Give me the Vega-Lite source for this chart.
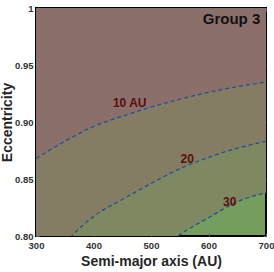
{
  "$schema": "https://vega.github.io/schema/vega-lite/v6.json",
  "width": 230,
  "height": 228,
  "autosize": {"type": "none"},
  "padding": {"left": 36, "top": 8, "right": 8, "bottom": 36},
  "config": {
    "view": {"fill": "#749d5e", "stroke": "black", "strokeWidth": 2},
    "font": "Liberation Sans",
    "axis": {
      "grid": false,
      "domain": false,
      "tickColor": "#2f62a0",
      "tickSize": -3,
      "tickWidth": 1,
      "labelFont": "Liberation Sans",
      "labelFontWeight": "bold",
      "labelFontSize": 9.5,
      "labelColor": "#333333",
      "labelFlush": false,
      "labelOverlap": false,
      "titleFont": "Liberation Sans",
      "titleFontWeight": "bold",
      "titleFontSize": 14,
      "titleColor": "#262626"
    }
  },
  "datasets": {
    "curves": [
      {"a": 300, "q10": 0.868, "q20": 0.745, "q30": 0.60},
      {"a": 350, "q10": 0.883, "q20": 0.792, "q30": 0.66},
      {"a": 400, "q10": 0.896, "q20": 0.817, "q30": 0.71},
      {"a": 450, "q10": 0.905, "q20": 0.832, "q30": 0.755},
      {"a": 500, "q10": 0.913, "q20": 0.846, "q30": 0.780},
      {"a": 550, "q10": 0.920, "q20": 0.859, "q30": 0.801},
      {"a": 600, "q10": 0.926, "q20": 0.869, "q30": 0.816},
      {"a": 650, "q10": 0.931, "q20": 0.877, "q30": 0.830},
      {"a": 700, "q10": 0.935, "q20": 0.883, "q30": 0.838}
    ],
    "labels": [
      {"a": 463, "e": 0.913, "text": "10 AU"},
      {"a": 563, "e": 0.864, "text": "20"},
      {"a": 637, "e": 0.826, "text": "30"}
    ]
  },
  "layer": [
    {
      "data": {"name": "curves"},
      "mark": {"type": "area", "clip": true, "color": "#7e8962", "interpolate": "monotone"},
      "encoding": {
        "x": {"field": "a", "type": "quantitative", "scale": {"domain": [300, 700], "nice": false, "zero": false},
              "axis": {"orient": "bottom", "title": "Semi-major axis (AU)", "values": [300, 400, 500, 600, 700], "labelPadding": 7, "titlePadding": 5}},
        "y": {"field": "q30", "type": "quantitative", "scale": {"domain": [0.8, 1], "nice": false, "zero": false},
              "axis": {"orient": "left", "title": "Eccentricity", "values": [0.8, 0.85, 0.9, 0.95, 1], "labelExpr": "datum.value == 1 ? '1' : format(datum.value, '.2f')", "labelPadding": 6, "titlePadding": 0}},
        "y2": {"datum": 1}
      }
    },
    {
      "data": {"name": "curves"},
      "mark": {"type": "area", "clip": true, "color": "#847d63", "interpolate": "monotone"},
      "encoding": {
        "x": {"field": "a", "type": "quantitative",
              "axis": {"orient": "top", "title": null, "labels": false, "values": [300, 400, 500, 600, 700]}},
        "y": {"field": "q20", "type": "quantitative",
              "axis": {"orient": "right", "title": null, "labels": false, "values": [0.8, 0.85, 0.9, 0.95, 1]}},
        "y2": {"datum": 1}
      }
    },
    {
      "data": {"name": "curves"},
      "mark": {"type": "area", "clip": true, "color": "#8b6f6a", "interpolate": "monotone"},
      "encoding": {
        "x": {"field": "a", "type": "quantitative", "axis": null},
        "y": {"field": "q10", "type": "quantitative", "axis": null},
        "y2": {"datum": 1}
      }
    },
    {
      "data": {"name": "curves"},
      "mark": {"type": "line", "clip": true, "color": "#22528f", "strokeDash": [4, 3], "strokeWidth": 1.3, "interpolate": "monotone"},
      "encoding": {
        "x": {"field": "a", "type": "quantitative", "axis": null},
        "y": {"field": "q10", "type": "quantitative", "axis": null}
      }
    },
    {
      "data": {"name": "curves"},
      "mark": {"type": "line", "clip": true, "color": "#22528f", "strokeDash": [4, 3], "strokeWidth": 1.3, "interpolate": "monotone"},
      "encoding": {
        "x": {"field": "a", "type": "quantitative", "axis": null},
        "y": {"field": "q20", "type": "quantitative", "axis": null}
      }
    },
    {
      "data": {"name": "curves"},
      "mark": {"type": "line", "clip": true, "color": "#22528f", "strokeDash": [4, 3], "strokeWidth": 1.3, "interpolate": "monotone"},
      "encoding": {
        "x": {"field": "a", "type": "quantitative", "axis": null},
        "y": {"field": "q30", "type": "quantitative", "axis": null}
      }
    },
    {
      "data": {"name": "labels"},
      "mark": {"type": "text", "color": "#5a0e0e", "fontSize": 12, "fontWeight": "bold", "font": "Liberation Sans", "align": "center", "baseline": "alphabetic"},
      "encoding": {
        "x": {"field": "a", "type": "quantitative", "axis": null},
        "y": {"field": "e", "type": "quantitative", "axis": null},
        "text": {"field": "text"}
      }
    },
    {
      "data": {"values": [{"label": "Group 3"}]},
      "mark": {"type": "text", "color": "#111111", "fontSize": 15, "fontWeight": "bold", "font": "Liberation Sans", "align": "right", "baseline": "alphabetic"},
      "encoding": {
        "x": {"datum": 690, "type": "quantitative", "axis": null},
        "y": {"datum": 0.986, "type": "quantitative", "axis": null},
        "text": {"field": "label"}
      }
    }
  ],
  "resolve": {"axis": {"x": "independent", "y": "independent"}}
}
